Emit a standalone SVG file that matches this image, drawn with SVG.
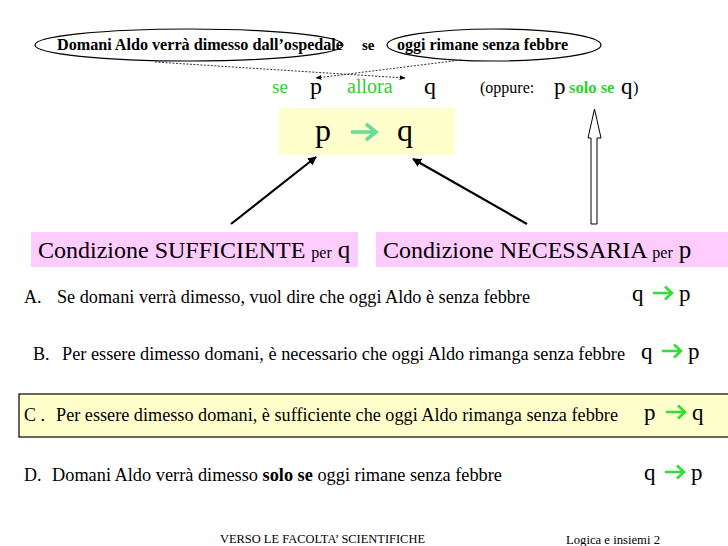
<svg xmlns="http://www.w3.org/2000/svg" width="728" height="546" viewBox="0 0 728 546">
<style>
text{font-family:"Liberation Serif","Times New Roman",serif;fill:#000}
.b{font-weight:bold}
.g{fill:#33cc33}
.ell{fill:none;stroke:#000;stroke-width:1.2}
.dash{fill:none;stroke:#333;stroke-width:1;stroke-dasharray:2,1.5}
.arr{fill:none;stroke:#000;stroke-width:2.2}
.ga{fill:none;stroke:#33dd33;stroke-width:2.6;stroke-linecap:butt;stroke-linejoin:miter}
.gb{fill:none;stroke:#66dd99;stroke-width:3.6;stroke-linejoin:miter}
</style>
<defs>
<marker id="ah" viewBox="0 0 10 10" refX="9" refY="5" markerWidth="4" markerHeight="4" orient="auto"><path d="M0,0L10,5L0,10z" fill="#000"/></marker>
<marker id="ahs" viewBox="0 0 10 10" refX="9" refY="5" markerWidth="6" markerHeight="6" orient="auto"><path d="M0,1L10,5L0,9z" fill="#000"/></marker>
<path id="garrow" class="ga" d="M0,0 H19 M12,-6.5 L19,0 L12,6.5"/>
</defs>
<rect width="728" height="546" fill="#fff"/>
<g id="ellipse-p">
<ellipse class="ell" cx="189" cy="45" rx="154" ry="16"/>
<text class="b" x="57" y="50" font-size="16" textLength="286" lengthAdjust="spacingAndGlyphs">Domani Aldo verrà dimesso dall’ospedale</text>
</g>
<text class="b" x="362" y="50" font-size="15">se</text>
<g id="ellipse-q">
<ellipse class="ell" cx="494" cy="45" rx="107" ry="16"/>
<text class="b" x="397" y="50" font-size="16" textLength="171" lengthAdjust="spacingAndGlyphs">oggi rimane senza febbre</text>
</g>
<g id="row-se-allora">
<text class="g" x="272" y="93" font-size="19">se</text>
<text x="310" y="94" font-size="24">p</text>
<text class="g" x="347" y="93" font-size="20">allora</text>
<text x="424" y="94" font-size="24">q</text>
<text x="480" y="93" font-size="16">(oppure:</text>
<text x="554" y="94" font-size="23">p</text>
<text class="b g" x="569" y="93" font-size="16.5">solo se</text>
<text x="621" y="94" font-size="23">q</text>
<text x="633" y="93" font-size="16.5">)</text>
</g>
<g id="pq-box">
<rect x="279" y="108" width="176" height="47" fill="#ffffcc"/>
<text x="315" y="141" font-size="32">p</text>
<path class="gb" d="M351,132 H376 M366,124 L376,132 L366,140"/>
<text x="397" y="141" font-size="32">q</text>
</g>
<g id="sufficiente">
<rect x="31" y="232" width="327" height="35" fill="#ffccff"/>
<text x="38" y="258" font-size="24">Condizione SUFFICIENTE <tspan font-size="16">per</tspan> <tspan font-size="25">q</tspan></text>
</g>
<g id="necessaria">
<rect x="376" y="232" width="352" height="35" fill="#ffccff"/>
<text x="383" y="258" font-size="24">Condizione NECESSARIA <tspan font-size="16">per</tspan> <tspan font-size="25">p</tspan></text>
</g>
<g id="connectors">
<path class="dash" d="M155,62 L405,78" marker-end="url(#ahs)"/>
<path class="dash" d="M461,60 L316,78" marker-end="url(#ahs)"/>
<line class="arr" x1="231" y1="224" x2="316" y2="157" marker-end="url(#ah)"/>
<line class="arr" x1="527" y1="224" x2="413" y2="159" marker-end="url(#ah)"/>
<path d="M591,224 L591,138 L588,138 L594.5,109 L601,138 L597,138 L597,224 Z" fill="#fff" stroke="#000" stroke-width="1"/>
</g>
<g id="item-a">
<text x="24" y="303" font-size="18">A.</text>
<text x="57" y="303" font-size="18" textLength="473" lengthAdjust="spacingAndGlyphs">Se domani verrà dimesso, vuol dire che oggi Aldo è senza febbre</text>
<text x="632" y="301" font-size="23">q</text>
<use href="#garrow" x="653" y="293"/>
<text x="679" y="301" font-size="23">p</text>
</g>
<g id="item-b">
<text x="33" y="360" font-size="18">B.</text>
<text x="62" y="360" font-size="18" textLength="563" lengthAdjust="spacingAndGlyphs">Per essere dimesso domani, è necessario che oggi Aldo rimanga senza febbre</text>
<text x="641" y="359" font-size="23">q</text>
<use href="#garrow" x="662" y="351"/>
<text x="688" y="359" font-size="23">p</text>
</g>
<g id="item-c">
<rect x="19" y="394" width="712" height="43" fill="#ffffcc" stroke="#000" stroke-width="1.2"/>
<text x="24" y="421" font-size="18">C .</text>
<text x="56" y="421" font-size="18" textLength="562" lengthAdjust="spacingAndGlyphs">Per essere dimesso domani, è sufficiente che oggi Aldo rimanga senza febbre</text>
<text x="644" y="420" font-size="23">p</text>
<use href="#garrow" x="666" y="412"/>
<text x="692" y="420" font-size="23">q</text>
</g>
<g id="item-d">
<text x="24" y="481" font-size="18">D.</text>
<text x="52" y="481" font-size="18" textLength="450" lengthAdjust="spacingAndGlyphs">Domani Aldo verrà dimesso <tspan class="b">solo se</tspan> oggi rimane senza febbre</text>
<text x="644" y="480" font-size="23">q</text>
<use href="#garrow" x="665" y="472"/>
<text x="691" y="480" font-size="23">p</text>
</g>
<g id="footer">
<text x="220" y="543" font-size="12.5" textLength="205" lengthAdjust="spacingAndGlyphs">VERSO LE FACOLTA’ SCIENTIFICHE</text>
<text x="566" y="544" font-size="13" textLength="94" lengthAdjust="spacingAndGlyphs">Logica e insiemi 2</text>
</g>
</svg>
